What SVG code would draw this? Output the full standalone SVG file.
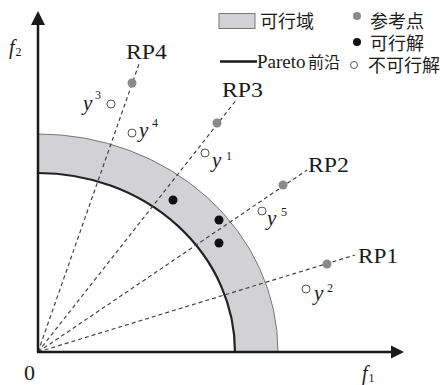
<svg xmlns="http://www.w3.org/2000/svg" width="444" height="385" viewBox="0 0 444 385">
<style>
.serif{font-family:"Liberation Serif","Noto Sans CJK SC",serif;fill:#1a1a1a}
.it{font-style:italic}
.rp{font-size:22px}
.cjk{font-family:"Liberation Serif","Noto Sans CJK SC",serif;font-size:18px;fill:#1a1a1a}
.ray{stroke:#444;stroke-width:1.2;stroke-dasharray:4 3;fill:none}
.ref{fill:#8a8a8a}
.feas{fill:#111}
.infeas{fill:#fff;stroke:#555;stroke-width:1}
.ax{stroke:#1a1a1a;stroke-width:2.5;fill:none}
</style>
<g id="band">
<path d="M38 134 A240 218 0 0 1 278 352 L235 352 A197 179 0 0 0 38 173 Z" fill="#d2d2d4"/>
<path d="M38 134 A240 218 0 0 1 278 352" fill="none" stroke="#777" stroke-width="1"/>
<path d="M38 173 A197 179 0 0 1 235 352" fill="none" stroke="#222" stroke-width="2.2"/>
</g>
<g id="connectors">
<line class="ray" x1="38" y1="352" x2="139" y2="64"/>
<line class="ray" x1="38" y1="352" x2="237" y2="99"/>
<line class="ray" x1="38" y1="352" x2="307" y2="170"/>
<line class="ray" x1="38" y1="352" x2="355" y2="255"/>
</g>
<g id="axes">
<line class="ax" x1="38" y1="352" x2="38" y2="22"/>
<path d="M38 11 L31 25 L45 25 Z" fill="#1a1a1a"/>
<line class="ax" x1="37" y1="352" x2="393" y2="352"/>
<path d="M404 352 L391 345.5 L391 358.5 Z" fill="#1a1a1a"/>
<text class="serif" x="24" y="380" font-size="22">0</text>
<text class="serif it" x="9" y="54" font-size="20">f<tspan font-style="normal" font-size="12" dx="1" dy="2">2</tspan></text>
<text class="serif it" x="362" y="380" font-size="20">f<tspan font-style="normal" font-size="12" dx="1" dy="2">1</tspan></text>
</g>
<g id="RP4"><circle class="ref" cx="132" cy="83" r="4.5"/><text class="serif rp" x="126" y="59" textLength="41" lengthAdjust="spacingAndGlyphs">RP4</text></g>
<g id="RP3"><circle class="ref" cx="217" cy="123" r="4.5"/><text class="serif rp" x="222" y="97" textLength="41" lengthAdjust="spacingAndGlyphs">RP3</text></g>
<g id="RP2"><circle class="ref" cx="283" cy="185" r="4.5"/><text class="serif rp" x="308" y="172" textLength="41" lengthAdjust="spacingAndGlyphs">RP2</text></g>
<g id="RP1"><circle class="ref" cx="327" cy="264" r="4.5"/><text class="serif rp" x="358" y="263" textLength="40" lengthAdjust="spacingAndGlyphs">RP1</text></g>
<g id="y3"><circle class="infeas" cx="111" cy="104" r="4"/><text class="serif it" x="83" y="110" font-size="21">y</text><text class="serif" x="95" y="99" font-size="12">3</text></g>
<g id="y4"><circle class="infeas" cx="132" cy="133" r="4"/><text class="serif it" x="139" y="137" font-size="21">y</text><text class="serif" x="152" y="127" font-size="12">4</text></g>
<g id="y1"><circle class="infeas" cx="205" cy="153" r="4"/><text class="serif it" x="212" y="167" font-size="21">y</text><text class="serif" x="226" y="160" font-size="12">1</text></g>
<g id="y5"><circle class="infeas" cx="262" cy="211" r="4"/><text class="serif it" x="267" y="225" font-size="21">y</text><text class="serif" x="281" y="216" font-size="12">5</text></g>
<g id="y2"><circle class="infeas" cx="306" cy="289" r="4"/><text class="serif it" x="314" y="300" font-size="21">y</text><text class="serif" x="327" y="292" font-size="12">2</text></g>
<g id="feasible">
<circle class="feas" cx="173" cy="200" r="4.5"/>
<circle class="feas" cx="219" cy="220" r="4.5"/>
<circle class="feas" cx="219" cy="243" r="4.5"/>
</g>
<g id="legend">
<rect x="219" y="13.5" width="36" height="15" fill="#d2d2d4" stroke="#777" stroke-width="1"/>
<text class="cjk" x="260" y="28">可行域</text>
<line x1="220" y1="61.5" x2="257" y2="61.5" stroke="#1a1a1a" stroke-width="2.5"/>
<text class="serif" x="257" y="68" font-size="19">Pareto<tspan x="308" font-size="16">前沿</tspan></text>
<circle class="ref" cx="357" cy="16" r="4"/>
<text class="cjk" x="370" y="28">参考点</text>
<circle class="feas" cx="357" cy="42" r="4"/>
<text class="cjk" x="370" y="50">可行解</text>
<circle class="infeas" cx="354" cy="65" r="3.5"/>
<text class="cjk" x="368" y="72">不可行解</text>
</g>
</svg>
